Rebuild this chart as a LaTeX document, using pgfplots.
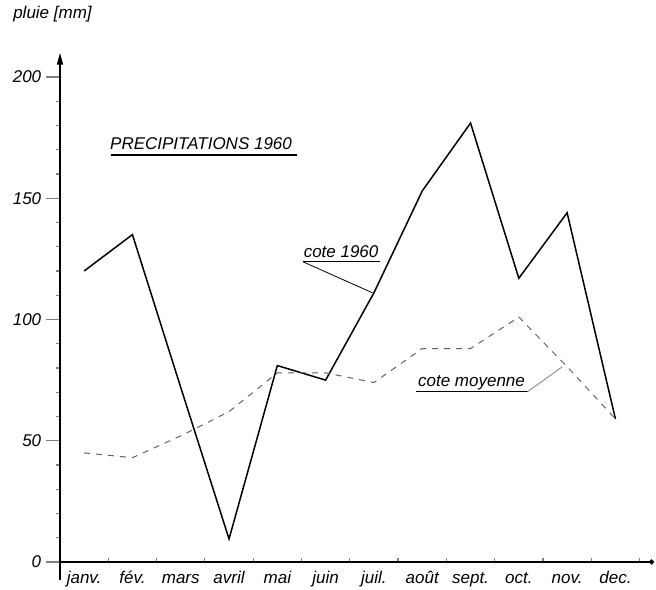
\documentclass[border=0pt]{standalone}
\usepackage{pgfplots}
\pgfplotsset{compat=1.18}
\usepackage{fontspec}
\setmainfont{Liberation Sans}
\usetikzlibrary{arrows.meta}

\definecolor{dashgray}{gray}{0.38}

\begin{document}
\begin{tikzpicture}[font=\itshape\fontsize{17}{20}\selectfont]
\begin{axis}[
    x=48.3pt, y=2.425pt,
    xmin=0, xmax=12.3,
    ymin=-7.5, ymax=210,
    axis lines=middle,
    axis line style={line width=1.6pt},
    x axis line style={-{Circle[length=5pt]}},
    y axis line style={-{Triangle[length=12pt,width=6pt]}},
    clip=false,
    xtick={0,1,...,12},
    xticklabels={janv.,fév.,mars,avril,mai,juin,juil.,août,sept.,oct.,nov.,dec.},
    x tick label as interval,
    ytick={0,50,100,150,200},
    minor y tick num=4,
    hide obscured x ticks=false,
    hide obscured y ticks=false,
    xtick align=inside,
    ytick align=outside,
    xtick style={line width=1.2pt, /pgfplots/major tick length=4pt},
    ytick style={line width=1.2pt, /pgfplots/major tick length=14pt, /pgfplots/minor tick length=4pt},
    /pgf/number format/assume math mode=true,
    ticklabel style={font=\itshape\fontsize{17}{20}\selectfont},
    yticklabel style={anchor=east, xshift=-11pt},
    xticklabel style={anchor=base, yshift=-22pt},
]

\addplot[black, line width=1.5pt] coordinates {
    (0.5,120)(1.5,135)(2.5,72)(3.5,9.5)(4.5,81)(5.5,75)
    (6.5,111)(7.5,153)(8.5,181)(9.5,117)(10.5,144)(11.5,59)
};
\addplot[dashgray, line width=1pt, dash pattern=on 6pt off 6pt] coordinates {
    (0.5,45)(1.5,43)(2.5,52)(3.5,62)(4.5,78)(5.5,78)
    (6.5,74)(7.5,88)(8.5,88)(9.5,101)(10.5,80.5)(11.5,59)
};

% labels
\node[anchor=west] at (axis cs:-1.04,226) {pluie [mm]};
\node[anchor=base] at (axis cs:2.92,170.3) {PRECIPITATIONS 1960};
\draw[line width=1.6pt] (axis cs:1.056,167.8) -- (axis cs:4.907,167.8);
\node[anchor=base] at (axis cs:5.82,125.6) {cote 1960};
\draw[line width=1.4pt] (axis cs:5.03,123.8) -- (axis cs:6.625,123.8);
\draw[line width=0.8pt] (axis cs:5.03,123.8) -- (axis cs:6.47,111);
\node[anchor=base] at (axis cs:8.52,72.3) {cote moyenne};
\draw[line width=1.4pt] (axis cs:7.37,70.2) -- (axis cs:9.68,70.2);
\draw[line width=0.8pt, gray] (axis cs:9.68,70.2) -- (axis cs:10.4,80.5);

\coordinate (bl) at (axis cs:-1.242,-11.55);
\coordinate (tr) at (axis cs:12.34,231.75);
\end{axis}
\pgfresetboundingbox
\useasboundingbox (bl) rectangle (tr);
\end{tikzpicture}
\end{document}
